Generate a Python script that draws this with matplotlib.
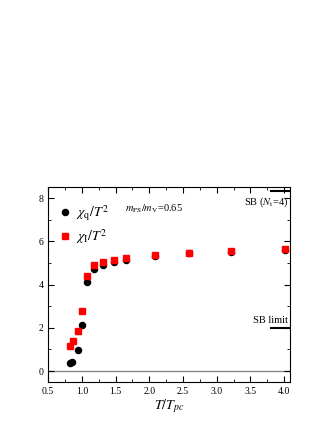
import matplotlib
matplotlib.use("Agg")
import matplotlib.pyplot as plt
from matplotlib.ticker import MultipleLocator

plt.rcParams["font.family"] = ["Liberation Serif", "DejaVu Serif"]
plt.rcParams["mathtext.fontset"] = "stix"

# chi_q / T^2 (black circles)
t_q = [0.82, 0.86, 0.945, 1.0, 1.08, 1.18, 1.32, 1.48, 1.66, 2.08, 2.59, 3.21, 4.01]
chi_q = [0.35, 0.41, 0.96, 2.14, 4.13, 4.72, 4.91, 5.03, 5.14, 5.31, 5.45, 5.53, 5.60]

# chi_I / T^2 (red squares)
t_i = [0.82, 0.866, 0.945, 1.0, 1.08, 1.18, 1.32, 1.48, 1.66, 2.08, 2.59, 3.21, 4.01]
chi_i = [1.18, 1.39, 1.86, 2.77, 4.38, 4.91, 5.05, 5.14, 5.23, 5.36, 5.48, 5.57, 5.63]

sb_limit = 2.0
sb_nt4 = 8.34

fig = plt.figure(figsize=(3.32, 4.30), dpi=100)
ax = fig.add_axes([0.145, 0.112, 0.729, 0.452])

ax.axhline(0, color="#888888", lw=1.0, zorder=1)
ax.plot(t_q, chi_q, "o", color="black", ms=4.4, mec="black", label=r"$\chi_{\rm q}/T^2$", zorder=2)
ax.plot(t_i, chi_i, "s", color="red", ms=4.0, mec="red", label=r"$\chi_{\rm I}/T^2$", zorder=3)

ax.plot([3.8, 4.09], [sb_limit, sb_limit], color="black", lw=1.5)
ax.plot([3.8, 4.09], [sb_nt4, sb_nt4], color="black", lw=1.5)
ax.text(4.06, sb_limit + 0.12, "SB limit", ha="right", va="bottom", fontsize=7.5)
ax.text(4.06, sb_nt4 - 0.2, r"SB ($N_{\rm t}$=4)", ha="right", va="top", fontsize=7.5)
ax.text(1.64, 7.5, r"$m_{\rm PS}/m_{\rm V}$=0.65", ha="left", va="center", fontsize=7.5)

ax.set_xlim(0.5, 4.09)
ax.set_ylim(-0.5, 8.5)
ax.xaxis.set_major_locator(MultipleLocator(0.5))
ax.xaxis.set_minor_locator(MultipleLocator(0.25))
ax.yaxis.set_major_locator(MultipleLocator(2))
ax.yaxis.set_minor_locator(MultipleLocator(1))
ax.tick_params(which="both", direction="in", top=True, right=True, labelsize=7)
ax.tick_params(which="major", length=4)
ax.tick_params(which="minor", length=2)
ax.set_xlabel(r"$T/T_{pc}$", fontsize=10, labelpad=1)

ax.legend(loc="upper left", bbox_to_anchor=(0.0, 0.96), frameon=False, fontsize=10,
          handletextpad=0.2, labelspacing=0.3, borderaxespad=0.2, handlelength=1.2)

fig.savefig("out.png", dpi=100)
